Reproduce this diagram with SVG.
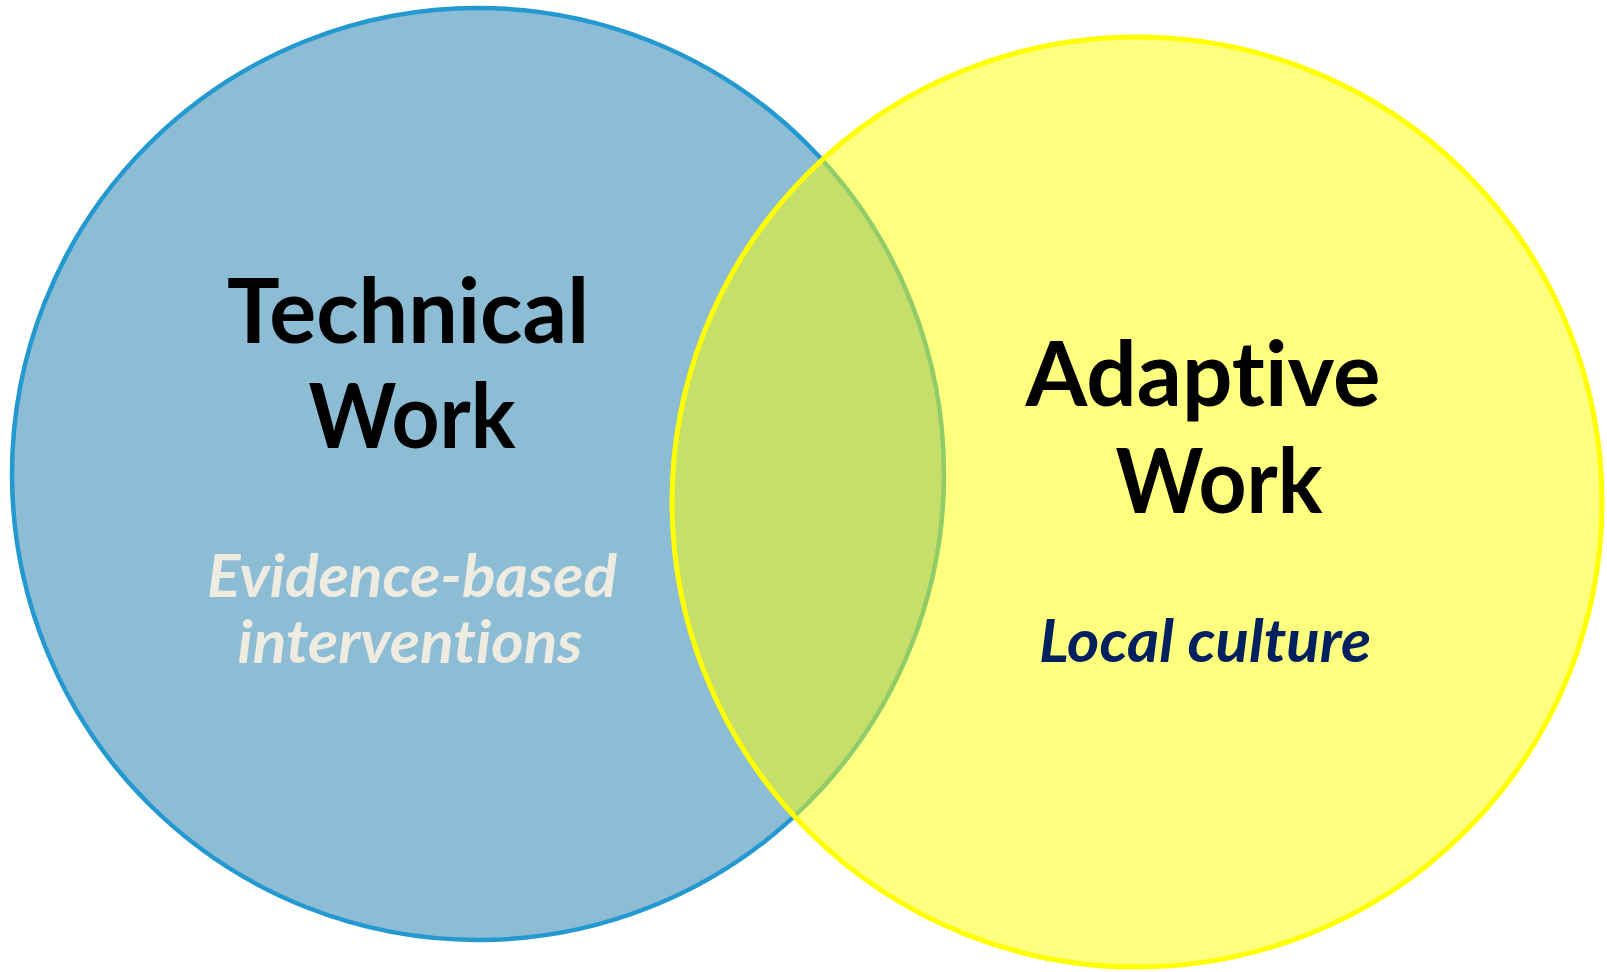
<svg xmlns="http://www.w3.org/2000/svg" width="1607" height="972" viewBox="0 0 1607 972">
  <style>
    text { font-variant-ligatures: none; font-feature-settings: "liga" 0, "clig" 0, "dlig" 0, "calt" 0; }
    .title { font-family: Lato, "Open Sans", "Liberation Sans", sans-serif; font-weight: bold; font-size: 90px; fill: #000000; text-anchor: middle; }
    .sub { font-family: Lato, "Open Sans", "Liberation Sans", sans-serif; font-weight: bold; font-style: italic; font-size: 59px; text-anchor: middle; }
    .light { fill: #EEEBE0; }
    .navy { fill: #002060; }
  </style>
  <rect width="1607" height="972" fill="#FFFFFF"/>
  <g id="technical">
    <circle cx="478" cy="474" r="466" fill="#8DBCD5" stroke="#2399D0" stroke-width="4.5"/>
  </g>
  <g id="adaptive">
    <circle cx="1137" cy="502" r="465" fill="#FFFF00" fill-opacity="0.5" stroke="#FFFF00" stroke-width="5"/>
  </g>
  <g id="connectors"></g>
  <g id="technical-labels">
    <text class="title" x="408" y="343" textLength="362" lengthAdjust="spacingAndGlyphs">Technical</text>
    <text class="title" x="412" y="448" textLength="207" lengthAdjust="spacingAndGlyphs">Work</text>
    <text class="sub light" x="412" y="597" textLength="410" lengthAdjust="spacingAndGlyphs">Evidence-based</text>
    <text class="sub light" x="410" y="663" textLength="345" lengthAdjust="spacingAndGlyphs">interventions</text>
  </g>
  <g id="adaptive-labels">
    <text class="title" x="1203" y="406" textLength="355" lengthAdjust="spacingAndGlyphs">Adaptive</text>
    <text class="title" x="1219" y="513" textLength="207" lengthAdjust="spacingAndGlyphs">Work</text>
    <text class="sub navy" x="1205" y="662" textLength="332" lengthAdjust="spacingAndGlyphs">Local culture</text>
  </g>
</svg>
